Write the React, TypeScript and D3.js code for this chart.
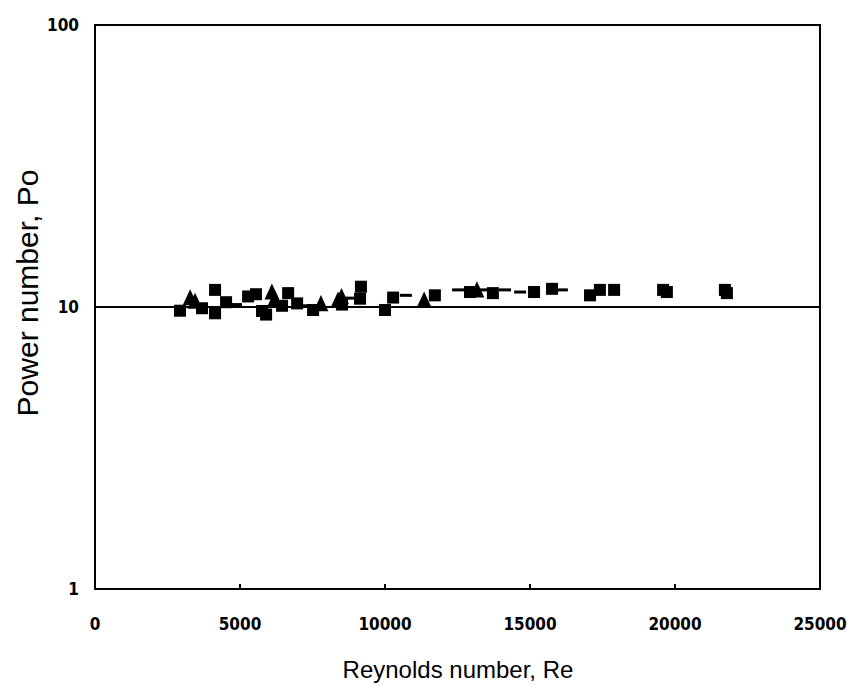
import React, { useEffect, useRef } from "react";
import * as d3 from "d3";

const xTicks = [0, 5000, 10000, 15000, 20000, 25000];
const yTicks = [1, 10, 100];

const squareRe = [2930, 3690, 4140, 4140, 4520, 5280, 5550, 5760, 5900, 6450, 6660, 6970, 7520, 8520, 9170, 9140, 10000, 10280, 11720, 12930, 13720, 15140, 15760, 17070, 17410, 17900, 19590, 19720, 21720, 21790];
const squarePo = [9.7, 9.9, 11.5, 9.5, 10.4, 10.9, 11.1, 9.68, 9.4, 10.1, 11.2, 10.3, 9.76, 10.2, 11.8, 10.7, 9.76, 10.8, 11.0, 11.3, 11.2, 11.3, 11.6, 11.0, 11.5, 11.5, 11.5, 11.3, 11.5, 11.2];

const triRe = [3280, 3450, 6100, 6200, 7790, 8380, 8500, 11350, 13170];
const triPo = [10.6, 10.3, 11.1, 10.5, 10.1, 10.4, 10.7, 10.4, 11.3];

const dashRe = [4860, 7280, 8830, 10720, 12520, 13350, 14140, 14660, 16100];
const dashPo = [10.2, 10.1, 10.75, 11.0, 11.5, 11.5, 11.5, 11.3, 11.5];

const refLinePo = 10;

const W = 847, H = 686;
const M = { left: 95, right: 820, top: 25, bottom: 589 };

export default function App() {
  const ref = useRef<SVGSVGElement>(null);
  useEffect(() => {
    const svg = d3.select(ref.current);
    svg.selectAll("*").remove();
    const x = d3.scaleLinear().domain([0, 25000]).range([M.left, M.right]);
    const y = d3.scaleLog().domain([1, 100]).range([M.bottom, M.top]);

    const tickFont = "'DejaVu Sans Condensed', 'DejaVu Sans', sans-serif";

    svg.append("line")
      .attr("x1", x(0)).attr("x2", x(25000))
      .attr("y1", y(refLinePo)).attr("y2", y(refLinePo))
      .attr("stroke", "#000").attr("stroke-width", 2);

    svg.append("rect")
      .attr("x", M.left).attr("y", M.top)
      .attr("width", M.right - M.left).attr("height", M.bottom - M.top)
      .attr("fill", "none").attr("stroke", "#000").attr("stroke-width", 2);

    xTicks.forEach((t) => {
      svg.append("line").attr("x1", x(t)).attr("x2", x(t))
        .attr("y1", M.bottom).attr("y2", M.bottom - 5)
        .attr("stroke", "#000").attr("stroke-width", 2);
      svg.append("text").attr("x", x(t)).attr("y", M.bottom + 41)
        .attr("text-anchor", "middle").attr("font-family", tickFont)
        .attr("font-weight", "bold").attr("font-size", 17).text(String(t));
    });
    yTicks.forEach((t) => {
      svg.append("line").attr("x1", M.left).attr("x2", M.left + 5)
        .attr("y1", y(t)).attr("y2", y(t))
        .attr("stroke", "#000").attr("stroke-width", 2);
      svg.append("text").attr("x", M.left - 16).attr("y", y(t))
        .attr("dy", "0.35em")
        .attr("text-anchor", "end").attr("font-family", tickFont)
        .attr("font-weight", "bold").attr("font-size", 17).text(String(t));
    });

    const g = svg.append("g").attr("fill", "#000");
    squareRe.forEach((re, i) => {
      g.append("rect").attr("x", x(re) - 6).attr("y", y(squarePo[i]) - 6)
        .attr("width", 12).attr("height", 12);
    });
    const tri = d3.symbol().type(d3.symbolTriangle).size(95);
    triRe.forEach((re, i) => {
      g.append("path").attr("d", tri()!)
        .attr("transform", `translate(${x(re)},${y(triPo[i])}) scale(1,1.25)`);
    });
    dashRe.forEach((re, i) => {
      g.append("rect").attr("x", x(re) - 6).attr("y", y(dashPo[i]) - 1.5)
        .attr("width", 12).attr("height", 3);
    });

    svg.append("text").attr("x", 458).attr("y", 678)
      .attr("text-anchor", "middle")
      .attr("font-family", "'Liberation Sans', Arial, sans-serif")
      .attr("font-size", 24).text("Reynolds number, Re");
    svg.append("text")
      .attr("transform", `translate(38,${(M.top + M.bottom) / 2 - 14}) rotate(-90)`)
      .attr("text-anchor", "middle")
      .attr("font-family", "'Liberation Sans', Arial, sans-serif")
      .attr("font-size", 30).text("Power number, Po");
  }, []);
  return (
    <svg ref={ref} width={W} height={H}
      style={{ position: "absolute", left: 0, top: 0, background: "#fff" }} />
  );
}
